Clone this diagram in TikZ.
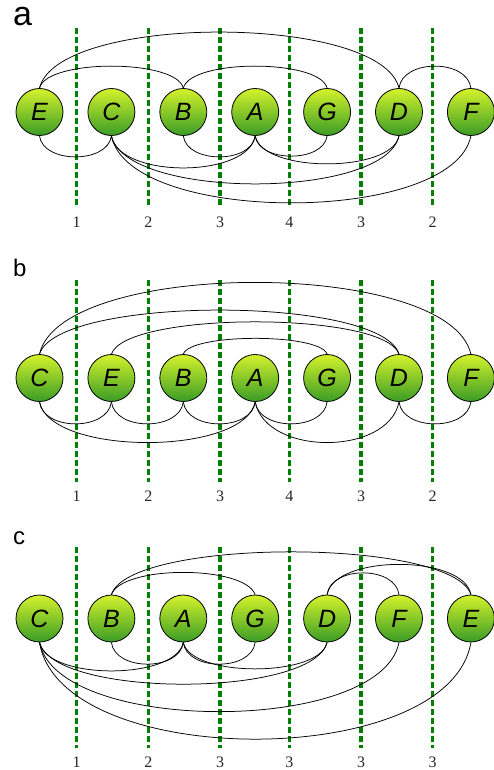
\documentclass[tikz,border=0pt]{standalone}
\usepackage{fontspec}
\setmainfont{Liberation Serif}
\newfontfamily\arialfont{Liberation Sans}
\usetikzlibrary{backgrounds}
\definecolor{ntop}{HTML}{D4F22C}
\definecolor{nbot}{HTML}{3A9C26}
\definecolor{dgreen}{HTML}{008000}
\tikzset{
  vertex/.style={circle, draw=black, line width=0.8pt, minimum size=47pt, inner sep=0pt,
    top color=ntop, bottom color=nbot, font=\arialfont\itshape\fontsize{25}{28}\selectfont},
  cutline/.style={draw=dgreen, line width=3.2pt, dash pattern=on 6pt off 3pt},
  cutnum/.style={font=\fontsize{16}{18}\selectfont, text=black!85, inner sep=0pt},
  edge/.style={draw=black, line width=0.75pt},
  panellabel/.style={anchor=base west, inner sep=0pt, font=\arialfont}
}
\newcommand\arcup[4]{\draw[edge] (#1.north) .. controls +(#3,-#4) and +(-#3,-#4) .. (#2.north);}
\newcommand\arcdn[4]{\draw[edge] (#1.south) .. controls +(#3,#4) and +(-#3,#4) .. (#2.south);}
\begin{document}
\begin{tikzpicture}[x=1pt,y=-1pt]
\useasboundingbox (0,0) rectangle (494,770);
% ---------------- panel a ----------------
\node[panellabel, font=\arialfont\fontsize{34}{36}\selectfont] (la) at (13,26) {a};
\foreach \n/\x in {E/39.5, C/111.4, B/183.3, A/255.2, G/327.1, D/399.0, F/470.9}
  \node[vertex] (a\n) at (\x,112) {\n};
\foreach \i/\x/\t in {1/76.7/1, 2/148.3/2, 3/220/3, 4/289.3/4, 5/361/3, 6/432.7/2}{
  \coordinate (at\i) at (\x,28);
  \coordinate (ab\i) at (\x,207);
  \node[cutnum] (an\i) at (\x,222) {\t};
}
\begin{scope}[on background layer]
\foreach \i in {1,...,6} \draw[cutline] (at\i) -- (ab\i);
\arcup{aE}{aD}{18}{74.7}
\arcup{aE}{aB}{7.2}{29.3}
\arcup{aB}{aG}{7.2}{29.3}
\arcup{aD}{aF}{3.6}{29.3}
\arcdn{aE}{aC}{3.6}{28}
\arcdn{aB}{aA}{3.6}{28}
\arcdn{aA}{aG}{3.6}{27}
\arcdn{aC}{aA}{7.2}{42.7}
\arcdn{aA}{aD}{7.2}{37.3}
\arcdn{aC}{aD}{14.4}{64}
\arcdn{aC}{aF}{18}{89.3}
\end{scope}
% ---------------- panel b ----------------
\node[panellabel, font=\arialfont\fontsize{24}{28}\selectfont] (lb) at (13,276.7) {b};
\foreach \n/\x in {C/39.5, E/111.4, B/183.3, A/255.2, G/327.1, D/399.0, F/470.9}
  \node[vertex] (b\n) at (\x,378) {\n};
\foreach \i/\x/\t in {1/76.7/1, 2/148.3/2, 3/220/3, 4/289.3/4, 5/361/3, 6/432.7/2}{
  \coordinate (bt\i) at (\x,280);
  \coordinate (bb\i) at (\x,482);
  \node[cutnum] (bn\i) at (\x,496) {\t};
}
\begin{scope}[on background layer]
\foreach \i in {1,...,6} \draw[cutline] (bt\i) -- (bb\i);
\arcup{bC}{bF}{21.6}{95.6}
\arcup{bC}{bD}{18}{58.7}
\arcup{bE}{bD}{14.4}{43}
\arcup{bB}{bG}{7.2}{21}
\arcdn{bC}{bE}{3.6}{29.3}
\arcdn{bE}{bB}{3.6}{29.3}
\arcdn{bB}{bA}{3.6}{29.3}
\arcdn{bA}{bG}{3.6}{29.3}
\arcdn{bD}{bF}{3.6}{29.3}
\arcdn{bC}{bA}{10.8}{54.2}
\arcdn{bA}{bD}{10.8}{54.2}
\end{scope}
% ---------------- panel c ----------------
\node[panellabel, font=\arialfont\fontsize{24}{28}\selectfont] (lc) at (13,544.3) {c};
\foreach \n/\x in {C/39.5, B/111.4, A/183.3, G/255.2, D/327.1, F/399.0, E/470.9}
  \node[vertex] (c\n) at (\x,618.5) {\n};
\foreach \i/\x/\t in {1/76.7/1, 2/148.3/2, 3/220/3, 4/289.3/3, 5/361/3, 6/432.7/3}{
  \coordinate (ct\i) at (\x,547);
  \coordinate (cb\i) at (\x,748);
  \node[cutnum] (cn\i) at (\x,762) {\t};
}
\begin{scope}[on background layer]
\foreach \i in {1,...,6} \draw[cutline] (ct\i) -- (cb\i);
\arcup{cB}{cE}{18}{57}
\arcup{cD}{cE}{7.2}{40.3}
\arcup{cB}{cG}{10.8}{29.6}
\arcup{cD}{cF}{3.6}{29}
\arcdn{cB}{cA}{3.6}{29}
\arcdn{cA}{cG}{3.6}{29}
\arcdn{cC}{cA}{7.2}{38}
\arcdn{cA}{cD}{7.2}{35.3}
\arcdn{cC}{cD}{14.4}{55.7}
\arcdn{cC}{cF}{18}{92.3}
\arcdn{cC}{cE}{21.6}{129}
\end{scope}
\end{tikzpicture}
\end{document}
